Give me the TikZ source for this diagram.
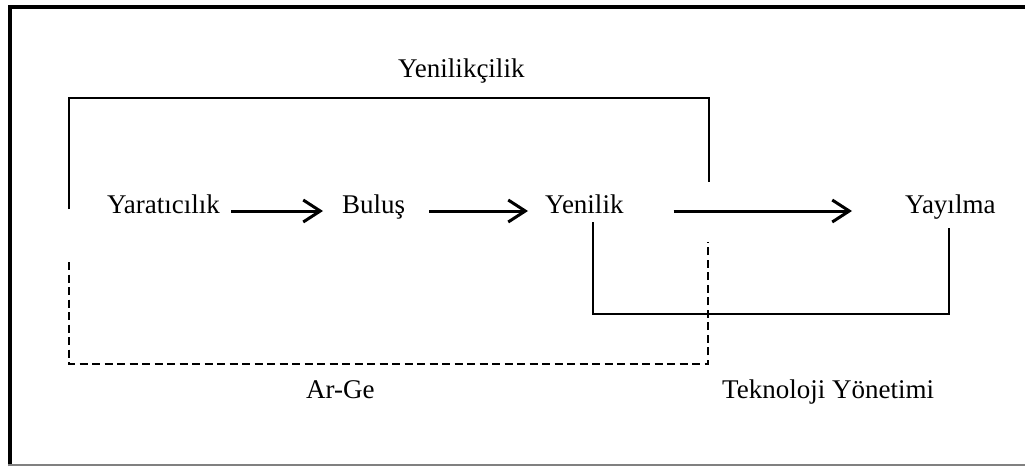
\documentclass[tikz,border=0pt]{standalone}
\usepackage{fontspec}
\setmainfont{Liberation Serif}
\usetikzlibrary{arrows.meta}
\begin{document}
\begin{tikzpicture}[x=1pt,y=-1pt,
  lbl/.style={inner sep=0pt,anchor=base west,font=\fontsize{27}{31}\selectfont},
  flow/.style={line width=3pt,-{Straight Barb[length=17pt,width=22pt]}},
  bracket/.style={line width=2.4pt},
  dashbracket/.style={line width=2.8pt,dash pattern=on 8pt off 4.5pt}]
\useasboundingbox (0,0) rectangle (1025,466);
% frame
\draw[line width=4pt] (9.5,466) -- (9.5,7) -- (1025,7);
\draw[gray,line width=1.5pt] (8,465) -- (1025,465);

% process stages
\node[lbl] (yar) at (107,213) {Yaratıcılık};
\node[lbl] (bul) at (342,213) {Buluş};
\node[lbl] (yen) at (545,213) {Yenilik};
\node[lbl] (yay) at (905,213) {Yayılma};

% group labels
\node[lbl] (ynk) at (398,77) {Yenilikçilik};
\node[lbl] (arge) at (306,398) {Ar-Ge};
\node[lbl] (tek) at (722,398) {Teknoloji Yönetimi};

% flow arrows
\draw[flow,shorten <=11pt,shorten >=19pt] ([yshift=2pt]yar.base east) -- ([yshift=2pt]bul.base west);
\draw[flow,shorten <=24pt,shorten >=17pt] ([yshift=2pt]bul.base east) -- ([yshift=2pt]yen.base west);
\draw[flow,shorten <=50pt,shorten >=53pt] ([yshift=2pt]yen.base east) -- ([yshift=2pt]yay.base west);

% Yenilikcilik bracket
\coordinate (y1) at (69,209);
\coordinate (y2) at (709,182);
\draw[bracket] (y1) -- (y1 |- 0,98) -- (y2 |- 0,98) -- (y2);

% Ar-Ge bracket
\coordinate (a1) at (69,262);
\coordinate (a2) at (708,242);
\draw[dashbracket] (a1) -- (a1 |- 0,364) -- (a2 |- 0,364) -- (a2);

% Teknoloji Yonetimi bracket
\coordinate (t1) at (593,222);
\coordinate (t2) at (949,228);
\draw[bracket] (t1) -- (t1 |- 0,314) -- (t2 |- 0,314) -- (t2);
\end{tikzpicture}
\end{document}
